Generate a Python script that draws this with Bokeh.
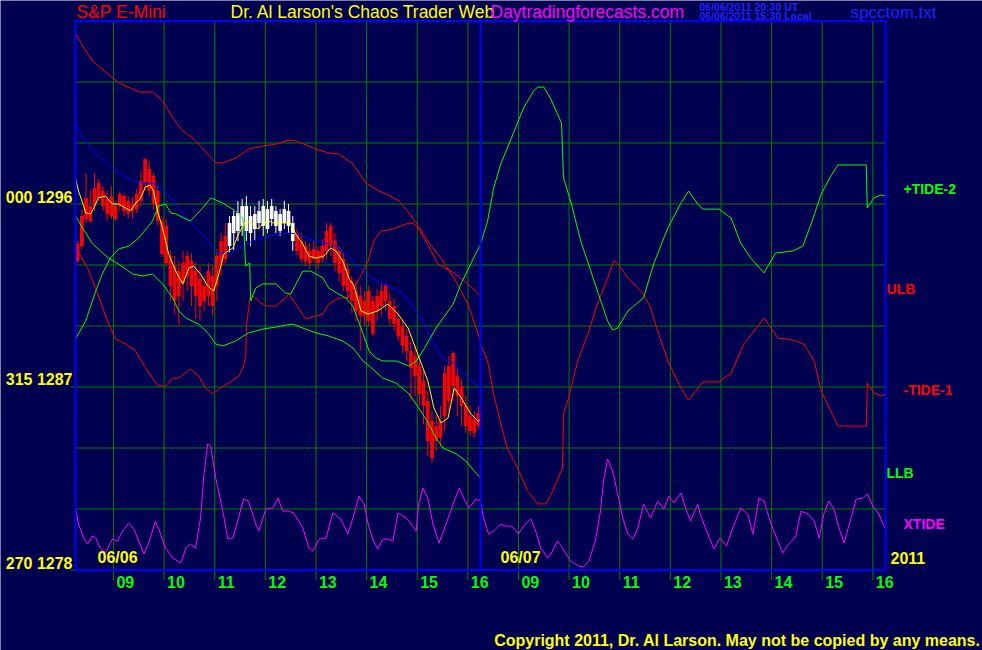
from bokeh.plotting import figure
from bokeh.models import Range1d, Label
from bokeh.embed import file_html
from bokeh.resources import INLINE

# ---------------- data (clock hours, price scale) ----------------
hour_labels = ["09", "10", "11", "12", "13", "14", "15", "16"]
hour_values = [9, 10, 11, 12, 13, 14, 15, 16]
price_labels = ["000 1296", "315 1287", "270 1278"]
price_levels = [1296, 1287, 1278]
grid_levels = [1281, 1284, 1287, 1290, 1293, 1296, 1299, 1302]

# -TIDE-1 (red)
tide1_day1_h = [8.25, 8.39, 8.59, 8.90, 9.10, 9.38, 9.50, 9.77, 9.97, 10.17,
                10.37, 10.56, 10.76, 11.02, 11.16, 11.41, 11.67, 11.95, 12.21, 12.46,
                12.60, 12.86, 13.00, 13.25, 13.45, 13.73, 13.99, 14.24, 14.44, 14.64,
                14.84, 14.98, 15.21, 15.47, 15.73, 16.00, 16.25]
tide1_day1 = [1304.41, 1303.77, 1303.03, 1302.39, 1301.95, 1301.66, 1301.51, 1301.51, 1301.07, 1300.23,
              1299.59, 1299.25, 1298.75, 1298.02, 1298.02, 1298.26, 1298.70, 1298.85, 1298.95, 1299.15,
              1299.10, 1298.85, 1298.70, 1298.51, 1298.46, 1297.97, 1297.03, 1296.64, 1296.44, 1296.15,
              1295.56, 1295.07, 1294.18, 1293.34, 1292.36, 1291.08, 1289.26]
tide1_day2_h = [8.25, 8.39, 8.51, 8.65, 8.78, 8.98, 9.18, 9.38, 9.54, 9.63,
                9.87, 9.89, 9.99, 10.17, 10.37, 10.56, 10.76, 10.88, 10.96, 11.16,
                11.28, 11.47, 11.61, 11.75, 11.95, 12.21, 12.36, 12.64, 12.96, 13.20,
                13.45, 13.85, 14.12, 14.42, 14.64, 14.84, 14.98, 15.31, 15.87, 15.89,
                16.02, 16.16, 16.26]
tide1_day2 = [1289.11, 1288.28, 1286.66, 1285.18, 1284.00, 1283.02, 1281.89, 1281.25, 1281.25, 1281.64,
              1283.02, 1285.67, 1286.46, 1288.28, 1289.61, 1291.08, 1292.36, 1293.20, 1293.10, 1292.36,
              1292.07, 1291.57, 1290.89, 1289.75, 1288.28, 1286.95, 1286.36, 1287.25, 1287.25, 1287.69,
              1289.11, 1290.39, 1289.41, 1289.31, 1289.11, 1288.28, 1286.80, 1285.08, 1285.08, 1287.20,
              1286.71, 1286.56, 1286.66]

# +TIDE-2 (green)
tide2_day1_h = [8.25, 8.45, 8.65, 8.78, 8.94, 9.10, 9.30, 9.50, 9.77, 9.89,
                10.03, 10.13, 10.23, 10.52, 10.76, 10.92, 11.16, 11.41, 11.55, 11.57,
                11.61, 11.69, 11.71, 11.81, 11.95, 12.21, 12.40, 12.50, 12.74, 12.90,
                13.14, 13.25, 13.45, 13.59, 13.73, 13.93, 14.05, 14.18, 14.32, 14.58,
                14.84, 14.98, 15.11, 15.37, 15.71, 15.87, 16.25]
tide2_day1 = [1289.36, 1290.25, 1291.72, 1292.56, 1293.34, 1293.79, 1293.93, 1294.33, 1295.16, 1295.90,
              1296.00, 1295.56, 1295.51, 1295.16, 1295.80, 1296.30, 1296.05, 1295.66, 1295.31, 1295.07,
              1292.95, 1293.10, 1291.23, 1291.87, 1292.07, 1292.07, 1291.62, 1291.57, 1292.70, 1292.70,
              1292.36, 1291.87, 1291.57, 1291.38, 1290.98, 1289.61, 1288.77, 1288.43, 1288.28, 1288.28,
              1288.03, 1288.28, 1288.77, 1289.90, 1291.08, 1292.11, 1294.03]
tide2_day2_h = [8.25, 8.39, 8.51, 8.65, 8.78, 8.90, 9.10, 9.30, 9.38, 9.50,
                9.63, 9.85, 9.87, 9.89, 10.03, 10.23, 10.43, 10.58, 10.76, 10.86,
                10.96, 11.16, 11.47, 11.67, 11.95, 12.21, 12.36, 12.54, 12.64, 12.96,
                13.20, 13.39, 13.59, 13.85, 14.08, 14.42, 14.62, 14.78, 14.98, 15.17,
                15.31, 15.87, 15.89, 16.02, 16.16, 16.26]
tide2_day2 = [1294.03, 1295.16, 1296.79, 1297.97, 1298.75, 1299.49, 1300.72, 1301.56, 1301.75, 1301.75,
              1301.21, 1299.98, 1298.61, 1297.28, 1296.15, 1294.18, 1292.70, 1291.57, 1290.25, 1289.80,
              1289.90, 1290.74, 1291.38, 1293.05, 1294.82, 1296.05, 1296.64, 1296.00, 1295.75, 1295.75,
              1295.31, 1294.08, 1293.34, 1292.61, 1293.59, 1293.69, 1293.93, 1295.02, 1296.49, 1297.38,
              1297.92, 1297.92, 1295.80, 1296.30, 1296.44, 1296.39]

# ULB (red, day 1)
ulb_h = [8.29, 8.49, 8.69, 8.88, 9.04, 9.24, 9.44, 9.58, 9.77, 9.89,
         10.03, 10.17, 10.29, 10.52, 10.68, 10.82, 10.96, 11.08, 11.28, 11.47,
         11.55, 11.61, 11.63, 11.71, 11.87, 12.01, 12.21, 12.40, 12.46, 12.60,
         12.80, 13.00, 13.14, 13.25, 13.45, 13.63, 13.83, 14.03, 14.14, 14.28,
         14.52, 14.78, 14.92, 15.03, 15.17, 15.41, 15.73, 16.00, 16.25]
ulb = [1293.69, 1292.85, 1291.57, 1290.25, 1289.36, 1289.11, 1288.77, 1288.13, 1287.44, 1287.05,
       1287.05, 1287.44, 1287.44, 1287.89, 1287.54, 1286.95, 1286.66, 1286.90, 1287.20, 1287.54,
       1287.89, 1288.43, 1290.10, 1291.57, 1291.23, 1290.98, 1290.98, 1291.38, 1291.57, 1291.08,
       1290.34, 1290.49, 1290.59, 1291.08, 1291.38, 1291.38, 1292.21, 1293.20, 1294.18, 1294.67,
       1294.77, 1295.02, 1295.07, 1294.77, 1294.18, 1293.05, 1292.61, 1292.07, 1291.48]

# LLB (green, day 1)
llb_h = [8.25, 8.39, 8.59, 8.90, 9.10, 9.38, 9.58, 9.77, 9.97, 10.17,
         10.29, 10.43, 10.68, 10.88, 11.02, 11.16, 11.41, 11.67, 11.95, 12.21,
         12.54, 12.74, 13.00, 13.25, 13.53, 13.73, 13.93, 14.05, 14.32, 14.58,
         14.84, 15.03, 15.23, 15.37, 15.51, 15.77, 15.96, 16.16, 16.25]
llb = [1295.41, 1294.82, 1294.03, 1293.34, 1293.05, 1292.56, 1292.46, 1292.56, 1292.07, 1291.38,
       1290.74, 1290.39, 1290.10, 1289.61, 1289.11, 1289.02, 1289.26, 1289.66, 1289.85, 1289.95,
       1290.10, 1289.90, 1289.66, 1289.51, 1289.26, 1288.92, 1288.28, 1288.03, 1287.44, 1287.20,
       1286.66, 1285.97, 1285.18, 1284.49, 1284.00, 1283.71, 1283.36, 1282.77, 1282.52]

# slow average (blue, day 1)
slow_h = [8.25, 8.39, 8.59, 8.90, 9.10, 9.38, 9.58, 9.77, 9.97, 10.17,
          10.37, 10.56, 10.76, 10.96, 11.08, 11.28, 11.47, 11.75, 12.01, 12.27,
          12.46, 12.66, 12.86, 13.14, 13.33, 13.53, 13.73, 13.99, 14.18, 14.44,
          14.72, 14.84, 15.11, 15.31, 15.51, 15.71, 15.90, 16.16, 16.25]
slow = [1299.93, 1299.25, 1298.61, 1297.97, 1297.52, 1297.13, 1297.03, 1297.03, 1296.74, 1296.15,
        1295.51, 1295.02, 1294.52, 1293.84, 1293.59, 1293.59, 1293.84, 1294.18, 1294.38, 1294.52,
        1294.57, 1294.52, 1294.28, 1294.08, 1294.03, 1293.69, 1293.20, 1292.56, 1292.21, 1291.97,
        1291.57, 1291.23, 1290.25, 1289.26, 1288.38, 1288.18, 1287.69, 1287.15, 1286.95]

# fast average (yellow, day 1)
fast_h = [8.25, 8.31, 8.39, 8.45, 8.55, 8.61, 8.70, 8.84, 8.98, 9.10,
          9.24, 9.34, 9.44, 9.54, 9.63, 9.73, 9.79, 9.87, 9.97, 10.09,
          10.23, 10.37, 10.49, 10.58, 10.72, 10.86, 10.98, 11.08, 11.18, 11.36,
          11.47, 11.61, 11.75, 11.85, 11.95, 12.07, 12.21, 12.34, 12.50, 12.60,
          12.74, 12.86, 13.00, 13.16, 13.29, 13.39, 13.53, 13.65, 13.75, 13.89,
          14.03, 14.22, 14.42, 14.62, 14.82, 15.01, 15.21, 15.33, 15.47, 15.61,
          15.73, 15.87, 16.06, 16.20, 16.25]
fast = [1297.28, 1296.64, 1296.05, 1295.56, 1295.51, 1295.80, 1296.30, 1296.39, 1296.00, 1296.00,
        1295.80, 1295.66, 1296.05, 1296.30, 1296.84, 1296.93, 1296.64, 1295.66, 1294.82, 1293.54,
        1292.70, 1292.07, 1292.85, 1292.95, 1292.56, 1291.97, 1291.72, 1292.56, 1293.54, 1293.84,
        1294.52, 1295.16, 1295.02, 1294.77, 1295.02, 1295.16, 1295.02, 1295.07, 1295.07, 1294.52,
        1294.03, 1293.44, 1293.34, 1293.44, 1293.84, 1293.69, 1293.20, 1292.36, 1291.97, 1290.74,
        1290.59, 1290.74, 1291.08, 1290.59, 1289.90, 1288.62, 1287.30, 1285.97, 1285.23, 1285.48,
        1286.95, 1286.46, 1285.67, 1285.33, 1285.38]

# XTIDE (magenta)
xtide_day1_h = [8.25, 8.31, 8.41, 8.49, 8.59, 8.65, 8.74, 8.84, 8.98, 9.08,
                9.18, 9.30, 9.40, 9.54, 9.60, 9.69, 9.83, 9.93, 10.03, 10.17,
                10.33, 10.43, 10.52, 10.62, 10.72, 10.78, 10.86, 10.92, 11.02, 11.16,
                11.26, 11.36, 11.47, 11.57, 11.67, 11.81, 11.87, 12.01, 12.15, 12.25,
                12.34, 12.46, 12.56, 12.74, 12.86, 12.94, 13.06, 13.20, 13.33, 13.49,
                13.63, 13.73, 13.85, 13.95, 14.03, 14.12, 14.22, 14.32, 14.42, 14.52,
                14.62, 14.78, 14.88, 14.98, 15.03, 15.11, 15.21, 15.31, 15.43, 15.57,
                15.71, 15.83, 15.92, 16.02, 16.16, 16.25]
xtide_day1 = [1281.05, 1280.26, 1279.57, 1279.28, 1279.67, 1279.57, 1279.08, 1278.84, 1279.52, 1279.43,
              1279.92, 1280.31, 1280.02, 1279.18, 1278.79, 1279.28, 1280.41, 1279.77, 1279.08, 1278.59,
              1278.34, 1279.08, 1279.28, 1279.08, 1280.56, 1282.52, 1284.20, 1284.10, 1282.52, 1280.90,
              1279.52, 1279.57, 1280.56, 1281.49, 1281.39, 1280.26, 1279.92, 1281.00, 1281.05, 1281.54,
              1280.90, 1280.90, 1280.80, 1280.07, 1279.08, 1278.93, 1279.52, 1279.57, 1280.80, 1280.51,
              1279.77, 1280.56, 1281.64, 1281.25, 1280.26, 1279.52, 1279.03, 1279.52, 1279.52, 1279.43,
              1280.80, 1280.56, 1280.26, 1279.92, 1281.25, 1282.03, 1281.54, 1280.26, 1279.33, 1280.26,
              1281.25, 1282.03, 1281.54, 1281.05, 1281.49, 1281.39]
xtide_day2_h = [8.25, 8.31, 8.41, 8.51, 8.65, 8.74, 8.84, 8.90, 9.00, 9.10,
                9.24, 9.34, 9.44, 9.58, 9.67, 9.77, 9.87, 10.03, 10.19, 10.29,
                10.39, 10.52, 10.62, 10.68, 10.76, 10.86, 10.96, 11.06, 11.16, 11.26,
                11.36, 11.47, 11.61, 11.75, 11.87, 11.97, 12.07, 12.21, 12.30, 12.40,
                12.54, 12.60, 12.74, 12.86, 12.98, 13.11, 13.21, 13.39, 13.53, 13.63,
                13.75, 13.85, 13.99, 14.12, 14.22, 14.34, 14.48, 14.58, 14.72, 14.84,
                14.94, 15.03, 15.13, 15.23, 15.33, 15.43, 15.57, 15.67, 15.81, 15.89,
                16.00, 16.12, 16.26]
xtide_day2 = [1281.39, 1280.56, 1279.77, 1279.92, 1280.26, 1280.16, 1280.16, 1280.07, 1279.77, 1280.16,
              1280.51, 1279.92, 1279.08, 1278.59, 1278.93, 1279.43, 1279.08, 1278.44, 1278.20, 1278.15,
              1278.44, 1279.43, 1280.90, 1282.38, 1283.46, 1282.87, 1281.74, 1280.56, 1279.77, 1279.52,
              1280.07, 1281.25, 1280.56, 1281.39, 1281.00, 1281.64, 1281.30, 1281.79, 1281.05, 1280.41,
              1281.25, 1280.66, 1279.77, 1279.03, 1279.57, 1279.18, 1279.92, 1281.05, 1280.75, 1279.77,
              1281.54, 1281.39, 1280.26, 1279.43, 1278.84, 1279.28, 1279.67, 1280.90, 1280.75, 1280.41,
              1279.57, 1280.75, 1281.39, 1281.00, 1280.07, 1279.33, 1280.56, 1281.49, 1281.54, 1281.74,
              1281.15, 1280.75, 1279.92]

# 5-minute S&P E-mini bars, 06/06 from 08:15
bar_open = [1293.20, 1293.93, 1295.26, 1295.90, 1295.90, 1296.30, 1296.64, 1296.25, 1295.41, 1295.90,
            1295.90, 1296.39, 1296.15, 1295.66, 1295.75, 1296.15, 1297.03, 1297.72, 1297.38, 1296.64,
            1295.16, 1294.92, 1293.44, 1292.95, 1291.48, 1292.11, 1292.46, 1293.20, 1292.70, 1292.31,
            1291.23, 1291.48, 1292.46, 1291.97, 1292.95, 1293.30, 1293.93, 1294.57, 1294.67, 1294.92,
            1295.90, 1295.41, 1294.77, 1295.07, 1295.90, 1294.77, 1295.26, 1295.66, 1295.51, 1295.07,
            1295.66, 1295.07, 1294.57, 1294.18, 1293.93, 1293.69, 1293.30, 1293.69, 1293.30, 1293.69,
            1294.92, 1294.18, 1293.69, 1293.30, 1292.80, 1292.21, 1291.72, 1291.48, 1290.49, 1290.25,
            1291.23, 1290.74, 1290.98, 1291.23, 1291.23, 1290.98, 1290.34, 1290.00, 1289.51, 1288.77,
            1288.52, 1288.03, 1287.30, 1286.31, 1285.33, 1284.34, 1284.49, 1285.57, 1286.31, 1287.05,
            1287.54, 1287.05, 1286.07, 1285.57, 1284.74, 1285.08]
bar_high = [1294.18, 1295.75, 1297.48, 1296.64, 1297.52, 1297.23, 1296.89, 1296.64, 1296.89, 1296.15,
            1296.64, 1296.54, 1296.39, 1296.39, 1296.74, 1297.62, 1298.26, 1298.11, 1297.52, 1296.89,
            1295.41, 1295.26, 1293.69, 1293.44, 1293.20, 1293.69, 1293.69, 1293.59, 1293.10, 1292.95,
            1292.46, 1293.10, 1292.95, 1293.79, 1294.57, 1295.07, 1295.41, 1295.66, 1296.15, 1296.25,
            1296.39, 1295.90, 1295.90, 1296.15, 1296.25, 1296.15, 1296.25, 1295.90, 1295.75, 1296.15,
            1296.00, 1295.41, 1294.77, 1294.57, 1294.18, 1294.08, 1294.18, 1293.93, 1294.28, 1295.07,
            1295.07, 1294.57, 1293.93, 1293.59, 1293.10, 1292.46, 1292.21, 1291.97, 1291.72, 1291.97,
            1291.48, 1291.82, 1292.07, 1292.11, 1291.62, 1291.33, 1290.74, 1290.34, 1289.85, 1289.26,
            1289.02, 1288.38, 1287.79, 1286.80, 1285.82, 1285.57, 1286.07, 1288.03, 1288.52, 1288.77,
            1287.89, 1287.39, 1286.56, 1286.07, 1285.82, 1286.07]
bar_low = [1293.10, 1293.79, 1295.07, 1295.07, 1295.66, 1296.15, 1295.66, 1295.16, 1295.26, 1295.16,
           1295.66, 1295.41, 1295.26, 1295.26, 1295.56, 1295.90, 1296.64, 1296.39, 1295.75, 1294.92,
           1293.39, 1292.95, 1291.23, 1290.59, 1290.00, 1291.23, 1291.72, 1290.98, 1290.34, 1290.25,
           1290.74, 1290.98, 1290.49, 1291.23, 1292.46, 1293.10, 1293.59, 1293.69, 1294.18, 1294.43,
           1294.18, 1293.93, 1294.18, 1294.77, 1294.43, 1294.57, 1294.92, 1294.57, 1294.43, 1294.77,
           1294.57, 1293.69, 1293.44, 1293.10, 1292.95, 1292.80, 1293.10, 1292.80, 1293.10, 1293.30,
           1293.44, 1292.70, 1292.21, 1291.72, 1291.33, 1290.64, 1290.25, 1288.77, 1290.00, 1290.00,
           1289.51, 1290.25, 1290.49, 1290.74, 1290.00, 1289.75, 1289.26, 1288.67, 1288.28, 1286.31,
           1286.56, 1286.07, 1285.18, 1283.61, 1283.26, 1283.85, 1284.10, 1284.84, 1285.82, 1286.31,
           1285.57, 1285.08, 1284.74, 1284.59, 1284.49, 1284.93]
bar_close = [1294.03, 1295.41, 1296.30, 1295.16, 1296.79, 1297.03, 1295.90, 1295.51, 1296.39, 1295.26,
             1296.49, 1295.66, 1295.56, 1296.00, 1296.49, 1297.13, 1298.21, 1296.64, 1296.00, 1295.16,
             1293.54, 1293.10, 1291.97, 1291.23, 1292.70, 1293.10, 1293.44, 1291.97, 1291.48, 1290.98,
             1291.97, 1292.70, 1290.98, 1293.44, 1294.18, 1294.43, 1295.07, 1295.41, 1295.56, 1295.90,
             1294.67, 1294.57, 1295.51, 1295.66, 1294.92, 1295.75, 1295.90, 1294.92, 1294.67, 1295.75,
             1294.92, 1294.18, 1293.69, 1293.30, 1293.20, 1293.10, 1293.79, 1293.10, 1293.93, 1294.67,
             1293.93, 1293.10, 1292.61, 1291.97, 1291.72, 1291.23, 1290.74, 1290.49, 1291.23, 1291.72,
             1289.61, 1291.48, 1291.72, 1291.97, 1290.34, 1290.10, 1289.51, 1289.02, 1288.77, 1287.93,
             1287.54, 1286.66, 1286.07, 1284.34, 1283.51, 1285.08, 1285.33, 1287.69, 1288.03, 1288.67,
             1286.56, 1286.07, 1285.08, 1284.84, 1285.43, 1285.72]

# ---------------- styling constants ----------------
BG = "#000050"
GRID = "#008000"
FRAME = "#0000ff"
FONT = "Liberation Sans"
SESSION_START = 8.25          # 08:15 session start each day
BAR_MIN = 5.0
WHITE_FROM, WHITE_TO = 11.25, 12.58
X0, X1 = 0.0, 16.0            # session-hour span of the chart frame
Y0, Y1 = 1278.0, 1305.0       # price span of the chart frame
PX_PER_H = 810 / 16.0
PX_PER_PT = 61 / 3.0
TOP = 20.5                    # frame top in canvas pixels


def d1(hours):
    return [h - SESSION_START for h in hours]


def d2(hours):
    return [h - SESSION_START + 8.0 for h in hours]


def py(pix):
    # price value that sits at a given canvas pixel row
    return Y1 + (TOP - pix) / PX_PER_PT


def hx(pix):
    return (pix - 75) / PX_PER_H


p = figure(width=982, height=650, output_backend="svg", toolbar_location=None,
           x_range=Range1d(X0 - 75 / PX_PER_H, X1 + 97 / PX_PER_H),
           y_range=Range1d(py(650), py(0)),
           x_axis_location=None, y_axis_location=None,
           background_fill_color=BG, border_fill_color=BG,
           min_border=0, min_border_left=0, min_border_right=0,
           min_border_top=0, min_border_bottom=0)
p.outline_line_color = None
p.xgrid.visible = False
p.ygrid.visible = False

hour_ticks = d1(hour_values) + d2(hour_values)
n_h = len(hour_ticks)

# grid
p.segment(x0=hour_ticks, y0=[Y0] * n_h, x1=hour_ticks, y1=[Y1] * n_h,
          line_color=GRID, line_width=1)
p.segment(x0=[X0] * len(grid_levels), y0=grid_levels, x1=[X1] * len(grid_levels), y1=grid_levels,
          line_color=GRID, line_width=1)
# tick marks outside the frame
p.segment(x0=hour_ticks, y0=[Y0] * n_h, x1=hour_ticks,
          y1=[Y0 - 10 / PX_PER_PT] * n_h, line_color=GRID, line_width=1)
p.segment(x0=[X0 - 5 / PX_PER_H] * len(price_levels), y0=price_levels,
          x1=[X0] * len(price_levels), y1=price_levels, line_color=GRID, line_width=1)

# candles
bar_t = [SESSION_START + (i + 0.5) * BAR_MIN / 60.0 for i in range(len(bar_open))]
bx = d1(bar_t)
bar_col = ["#ffffff" if WHITE_FROM <= t <= WHITE_TO else "#ff0000" for t in bar_t]
p.segment(x0=bx, y0=bar_high, x1=bx, y1=bar_low, line_color=bar_col, line_width=1)
p.vbar(x=bx, top=[max(o, c) for o, c in zip(bar_open, bar_close)],
       bottom=[min(o, c) for o, c in zip(bar_open, bar_close)],
       width=0.072, fill_color=bar_col, line_color=None)

# indicator lines
p.line(d1(slow_h), slow, line_color="#0000ff", line_width=1)
p.line(d1(ulb_h), ulb, line_color="#ff0000", line_width=1)
p.line(d1(llb_h), llb, line_color="#00ff00", line_width=1)
p.line(d1(tide1_day1_h) + d2(tide1_day2_h), tide1_day1 + tide1_day2, line_color="#ff0000", line_width=1)
p.line(d1(tide2_day1_h) + d2(tide2_day2_h), tide2_day1 + tide2_day2, line_color="#00ff00", line_width=1)
p.line(d1(xtide_day1_h) + d2(xtide_day2_h), xtide_day1 + xtide_day2, line_color="#ff00ff", line_width=1)
p.line(d1(fast_h), fast, line_color="#ffff00", line_width=1)

# frame and day separator
p.segment(x0=[X0, X1, X0, X0, 8.0], y0=[Y0, Y0, Y0, Y1, Y0],
          x1=[X0, X1, X1, X1, 8.0], y1=[Y1, Y1, Y0, Y1, Y1],
          line_color=FRAME, line_width=2)


def lab(x, y, text, color, size, bold=True, align="left"):
    p.add_layout(Label(x=x, y=y, text=text, text_color=color, text_font=FONT,
                       text_font_size=size, text_font_style="bold" if bold else "normal",
                       text_align=align, text_baseline="middle"))


# header (y = visual centre row of each text)
lab(hx(76), py(11.5), "S&P E-Mini", "#ff0000", "17.5px", bold=False)
lab(hx(230), py(11.5), "Dr. Al Larson's Chaos Trader Web", "#ffff00", "17.5px", bold=False)
lab(hx(490), py(11.5), "Daytradingforecasts.com", "#ff00ff", "17.5px", bold=False)
lab(hx(699), py(6.5), "06/06/2011 20:30 UT", "#2020ff", "10.5px")
lab(hx(699), py(15), "06/06/2011 15:30 Local", "#2020ff", "10.5px")
lab(hx(850), py(11.5), "spcctom.txt", "#2020ff", "17px", bold=False)

# left price labels
for txt, row in zip(price_labels, [197, 379, 563]):
    lab(hx(72), py(row), txt, "#ffff00", "16px", align="right")

# hour labels
for txt, tk in zip(hour_labels + hour_labels, hour_ticks):
    lab(tk + 3 / PX_PER_H, py(581), txt, "#00ff00", "16px")

lab(hx(97), py(557), "06/06", "#ffff00", "16px")
lab(hx(500), py(557), "06/07", "#ffff00", "16px")
lab(hx(890), py(557), "2011", "#ffff00", "16px")

# right series labels
lab(hx(903), py(188.5), "+TIDE-2", "#00ff00", "14px")
lab(hx(886), py(288), "ULB", "#ff0000", "14px")
lab(hx(903), py(389), "-TIDE-1", "#ff0000", "14px")
lab(hx(886), py(472), "LLB", "#00ff00", "14px")
lab(hx(903), py(523.5), "XTIDE", "#ff00ff", "14px")

lab(hx(980), py(640), "Copyright 2011, Dr. Al Larson. May not be copied by any means.",
    "#ffff00", "16px", align="right")

open("out.html", "w").write(file_html(p, INLINE))
